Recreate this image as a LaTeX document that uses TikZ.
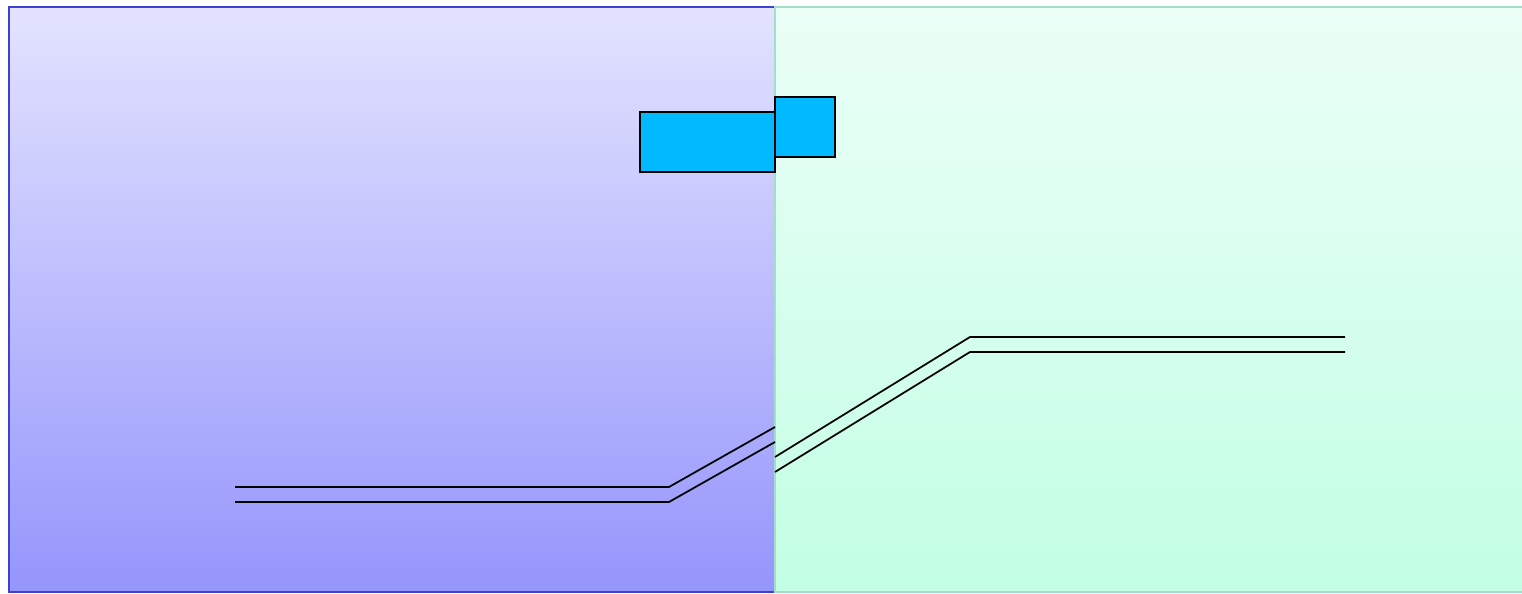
\documentclass[tikz,border=0pt]{standalone}
\usepackage{tikz}
\tikzstyle{pixelGrid} = [x = 0.02cm, y = -0.02cm]
\definecolor{leftTop}{HTML}{E3E3FF}
\definecolor{leftBottom}{HTML}{9595FC}
\definecolor{leftBorder}{HTML}{4040D0}
\definecolor{rightTop}{HTML}{EBFFF7}
\definecolor{rightBottom}{HTML}{C2FFE4}
\definecolor{rightBorder}{HTML}{A4DECA}
\definecolor{blockColor}{HTML}{00B9FF}
\tikzstyle{leftPanel} = [top color=leftTop, bottom color=leftBottom, draw=leftBorder, line width=1.2pt]
\tikzstyle{rightPanel} = [top color=rightTop, bottom color=rightBottom, draw=rightBorder, line width=1.1pt]
\tikzstyle{blockStyle} = [fill=blockColor, draw=black, line width=1.1pt]
\tikzstyle{railLine} = [color=black, line width=1pt]
\begin{document}
\begin{tikzpicture}[pixelGrid]
  \clip (0,0) rectangle (1522,594);
  % panels
  \path [leftPanel] (9,7) rectangle (775,592);
  \path [rightPanel] (775,7) rectangle (1526,592);
  % blocks
  \filldraw [blockStyle] (640,112) rectangle (775,172);
  \filldraw [blockStyle] (775,97) rectangle (835,157);
  % left track
  \draw [railLine] (235,487) -- (669,487) -- (775,427);
  \draw [railLine] (235,502) -- (669,502) -- (775,442);
  % right track
  \draw [railLine] (775,457) -- (970,337) -- (1345,337);
  \draw [railLine] (775,472) -- (970,352) -- (1345,352);
\end{tikzpicture}
\end{document}
